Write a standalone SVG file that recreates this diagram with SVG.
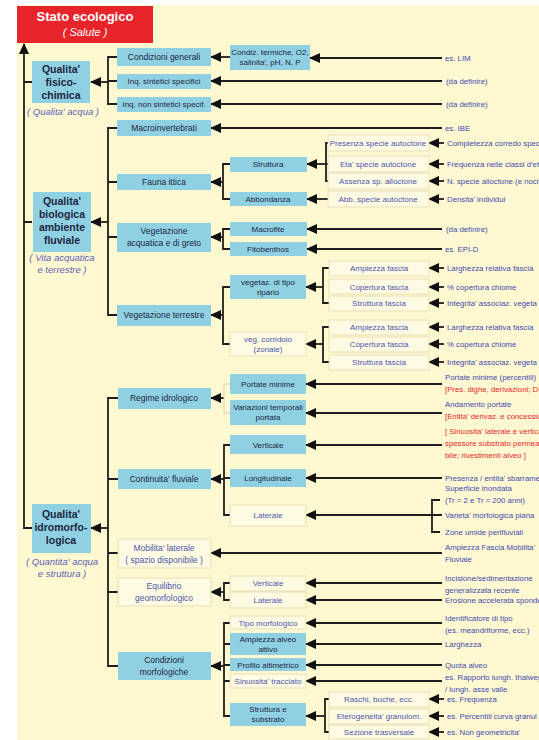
<svg xmlns="http://www.w3.org/2000/svg" width="539" height="740" viewBox="0 0 539 740">
<defs>
<marker id="ah" viewBox="0 0 11 10" refX="10" refY="5" markerWidth="11" markerHeight="10" markerUnits="userSpaceOnUse" orient="auto"><path d="M0,0 L11,5 L0,10 z" fill="#111"/></marker>
<style>
.bb{fill:#8fd0e3}
.wb{fill:#fffbe2;stroke:#e4d9b0;stroke-width:0.8}
.ln{fill:none;stroke:#1e1e1e;stroke-width:1.8}
.ar{fill:none;stroke:#1e1e1e;stroke-width:1.8;marker-end:url(#ah)}
.lt{fill:none;stroke:#d8d0b8;stroke-width:1}
text{font-family:"Liberation Sans",Arial,sans-serif}
.t{font-size:8.5px;fill:#1c2640;text-anchor:middle}
.tb{font-size:8.5px;fill:#4a55b0;text-anchor:middle}
.s{font-size:8px;fill:#4a55b0;text-anchor:middle}
.h{font-size:10.5px;font-weight:bold;fill:#1c2640;text-anchor:middle}
.c{font-size:9.5px;font-style:italic;fill:#5a62b8;text-anchor:middle}
.r{font-size:7.8px;fill:#3e4bb0}
.rr{font-size:7.8px;fill:#e8262e}
</style>
</defs>
<rect x="17" y="5" width="522" height="735" fill="#fff8d0"/>

<g id="connectors">
<path class="ar" d="M32,528 H24 V44"/>
<path class="ln" d="M24,82 H32 M24,222 H32"/>
<path class="ar" d="M108,82 H91"/>
<path class="ln" d="M117,57 H108 V104 H117 M108,81 H117"/>
<path class="ar" d="M230,57 H211"/>
<path class="ar" d="M442,58 H310"/>
<path class="ar" d="M442,81 H211"/>
<path class="ar" d="M442,104 H211"/>
<path class="ar" d="M108,222 H91"/>
<path class="ln" d="M117,128 H108 V315 H117 M108,182 H117 M108,237 H117"/>
<path class="ar" d="M442,128 H211"/>
<path class="ar" d="M223,182 H211"/>
<path class="ln" d="M230,164 H223 V199 H230"/>
<path class="ar" d="M326,164 H307"/>
<path class="ln" d="M332,143 H326 V181 H332 M326,164 H332"/>
<path class="ar" d="M328,199 H307"/>
<path class="ar" d="M444,143 H429"/>
<path class="ar" d="M444,164 H429"/>
<path class="ar" d="M444,181 H429"/>
<path class="ar" d="M444,199 H429"/>
<path class="ar" d="M223,237 H211"/>
<path class="ln" d="M230,229 H223 V249 H230"/>
<path class="ar" d="M442,229 H307"/>
<path class="ar" d="M442,249 H307"/>
<path class="ar" d="M223,315 H211"/>
<path class="ln" d="M230,287 H223 V344 H230"/>
<path class="ar" d="M323,287 H306"/>
<path class="ln" d="M329,268 H323 V303 H329"/>
<path class="ar" d="M323,344 H306"/>
<path class="ln" d="M329,327 H323 V362 H329"/>
<path class="ar" d="M444,268 H429"/>
<path class="ar" d="M444,287 H429"/>
<path class="ar" d="M444,303 H429"/>
<path class="ar" d="M444,327 H429"/>
<path class="ar" d="M444,344 H429"/>
<path class="ar" d="M444,362 H429"/>
<path class="ar" d="M108,528 H91"/>
<path class="ln" d="M118,398 H108 V666 H118 M108,479 H118 M108,553 H118 M108,592 H118"/>
<path class="ar" d="M224,398 H211"/>
<path class="lt" d="M230,384 H224 V413 H230"/>
<path class="ar" d="M442,384 H306"/>
<path class="ar" d="M442,413 H306"/>
<path class="ar" d="M224,479 H211"/>
<path class="ln" d="M230,445 H224 V515 H230 M224,478 H230"/>
<path class="ar" d="M442,445 H306"/>
<path class="ar" d="M442,478 H306"/>
<path class="ar" d="M442,515 H306"/>
<path class="ln" d="M440,500 H432 V532 H440"/>
<path class="ar" d="M442,553 H211"/>
<path class="ar" d="M224,592 H211"/>
<path class="ln" d="M230,583 H224 V600 H230"/>
<path class="ar" d="M442,583 H306"/>
<path class="ar" d="M442,600 H306"/>
<path class="ar" d="M224,666 H211"/>
<path class="ln" d="M230,623 H224 V716 H230 M224,644 H230 M224,665 H230 M224,681 H230"/>
<path class="ar" d="M442,623 H306"/>
<path class="ar" d="M442,644 H306"/>
<path class="ar" d="M442,665 H306"/>
<path class="ar" d="M442,681 H306"/>
<path class="ar" d="M325,716 H306"/>
<path class="ln" d="M329,699 H325 V732 H329"/>
<path class="ar" d="M444,699 H429"/>
<path class="ar" d="M444,716 H429"/>
<path class="ar" d="M444,732 H429"/>
</g>

<g id="stato"><rect x="17" y="6" width="136" height="37" fill="#e8242b"/><text x="85" y="21" style="font-size:13px;font-weight:bold;fill:#fff;text-anchor:middle">Stato ecologico</text><text x="85" y="36" style="font-size:11px;font-style:italic;fill:#fff;text-anchor:middle">( Salute )</text></g>

<g id="fisico"><rect class="bb" x="32" y="61" width="58" height="42"/><text class="h" x="61" y="73">Qualita'</text><text class="h" x="61" y="86">fisico-</text><text class="h" x="61" y="99">chimica</text><text class="c" x="63" y="115">( Qualita' acqua )</text></g>
<g id="biologica"><rect class="bb" x="33" y="192" width="58" height="60"/><text class="h" x="62" y="205">Qualita'</text><text class="h" x="62" y="218">biologica</text><text class="h" x="62" y="231">ambiente</text><text class="h" x="62" y="244">fluviale</text><text class="c" x="62" y="261">( Vita acquatica</text><text class="c" x="62" y="273">e terrestre )</text></g>
<g id="idromorfologica"><rect class="bb" x="32" y="504" width="59" height="49"/><text class="h" x="61" y="518">Qualita'</text><text class="h" x="61" y="531">idromorfo-</text><text class="h" x="61" y="544">logica</text><text class="c" x="62" y="565">( Quantita' acqua</text><text class="c" x="62" y="577">e struttura )</text></g>

<g id="cond-generali"><rect class="bb" x="117" y="48" width="94" height="18"/><text class="t" x="164" y="60">Condizioni generali</text></g>
<g id="condiz-termiche"><rect class="bb" x="230" y="45" width="80" height="25"/><text class="t" x="270" y="55" style="font-size:8px">Condiz. termiche, O2,</text><text class="t" x="270" y="65" style="font-size:8px">salinita', pH, N, P</text></g>
<g id="inq-sint"><rect class="bb" x="117" y="74" width="94" height="15"/><text class="t" x="164" y="84" style="font-size:8px">Inq. sintetici specifici</text></g>
<g id="inq-nonsint"><rect class="bb" x="117" y="97" width="94" height="15"/><text class="t" x="164" y="107" style="font-size:8px">Inq. non sintetici specif.</text></g>
<g id="macroinv"><rect class="bb" x="117" y="120" width="94" height="16"/><text class="t" x="164" y="131">Macroinvertebrati</text></g>
<g id="fauna"><rect class="bb" x="117" y="174" width="94" height="16"/><text class="t" x="164" y="185">Fauna ittica</text></g>
<g id="struttura"><rect class="bb" x="230" y="157" width="77" height="15"/><text class="t" x="268" y="167" style="font-size:8px">Struttura</text></g>
<g id="abbondanza"><rect class="bb" x="230" y="192" width="77" height="14"/><text class="t" x="268" y="202" style="font-size:8px">Abbondanza</text></g>
<g id="presenza"><rect class="wb" x="328" y="135" width="101" height="16"/><text class="s" x="378" y="146">Presenza specie autoctone</text></g>
<g id="eta"><rect class="wb" x="328" y="156" width="101" height="16"/><text class="s" x="378" y="167">Eta' specie autoctone</text></g>
<g id="assenza"><rect class="wb" x="328" y="173" width="101" height="16"/><text class="s" x="378" y="184">Assenza sp. alloctone</text></g>
<g id="abb-specie"><rect class="wb" x="328" y="191" width="101" height="16"/><text class="s" x="378" y="202">Abb. specie autoctone</text></g>
<g id="veg-acq"><rect class="bb" x="117" y="223" width="94" height="29"/><text class="t" x="164" y="234">Vegetazione</text><text class="t" x="164" y="246">acquatica e di greto</text></g>
<g id="macrofite"><rect class="bb" x="230" y="222" width="77" height="14"/><text class="t" x="268" y="232" style="font-size:8px">Macrofite</text></g>
<g id="fitobenthos"><rect class="bb" x="230" y="242" width="77" height="14"/><text class="t" x="268" y="252" style="font-size:8px">Fitobenthos</text></g>
<g id="veg-terr"><rect class="bb" x="117" y="305" width="94" height="21"/><text class="t" x="164" y="318">Vegetazione terrestre</text></g>
<g id="ripario"><rect class="bb" x="230" y="275" width="76" height="24"/><text class="t" x="268" y="285" style="font-size:8px">vegetaz. di tipo</text><text class="t" x="268" y="295" style="font-size:8px">ripario</text></g>
<g id="corridoio"><rect class="wb" x="230" y="332" width="76" height="24"/><text class="s" x="268" y="342">veg. corridoio</text><text class="s" x="268" y="352">(zonale)</text></g>
<g id="amp1"><rect class="wb" x="329" y="261" width="100" height="15"/><text class="s" x="379" y="271">Ampiezza fascia</text></g>
<g id="cop1"><rect class="wb" x="329" y="279" width="100" height="15"/><text class="s" x="379" y="290">Copertura fascia</text></g>
<g id="str1"><rect class="wb" x="329" y="296" width="100" height="15"/><text class="s" x="379" y="306">Struttura fascia</text></g>
<g id="amp2"><rect class="wb" x="329" y="320" width="100" height="15"/><text class="s" x="379" y="330">Ampiezza fascia</text></g>
<g id="cop2"><rect class="wb" x="329" y="337" width="100" height="15"/><text class="s" x="379" y="347">Copertura fascia</text></g>
<g id="str2"><rect class="wb" x="329" y="355" width="100" height="15"/><text class="s" x="379" y="365">Struttura fascia</text></g>

<g id="regime"><rect class="bb" x="118" y="388" width="93" height="21"/><text class="t" x="164" y="401">Regime idrologico</text></g>
<g id="portate"><rect class="bb" x="230" y="374" width="76" height="20"/><text class="t" x="268" y="387" style="font-size:8px">Portate minime</text></g>
<g id="variazioni"><rect class="bb" x="230" y="400" width="76" height="25"/><text class="t" x="268" y="410" style="font-size:8px">Variazioni temporali</text><text class="t" x="268" y="420" style="font-size:8px">portata</text></g>
<g id="continuita"><rect class="bb" x="118" y="469" width="93" height="20"/><text class="t" x="164" y="482">Continuita' fluviale</text></g>
<g id="verticale1"><rect class="bb" x="230" y="435" width="76" height="19"/><text class="t" x="268" y="448" style="font-size:8px">Verticale</text></g>
<g id="longitudinale"><rect class="bb" x="230" y="469" width="76" height="18"/><text class="t" x="268" y="481" style="font-size:8px">Longitudinale</text></g>
<g id="laterale1"><rect class="wb" x="230" y="505" width="76" height="21"/><text class="s" x="268" y="518">Laterale</text></g>
<g id="mobilita"><rect class="wb" x="118" y="539" width="93" height="29"/><text class="tb" x="164" y="551">Mobilita' laterale</text><text class="tb" x="164" y="563">( spazio disponibile )</text></g>
<g id="equilibrio"><rect class="wb" x="118" y="578" width="93" height="28"/><text class="tb" x="164" y="589">Equilibrio</text><text class="tb" x="164" y="601">geomorfologico</text></g>
<g id="verticale2"><rect class="wb" x="230" y="576" width="76" height="15"/><text class="s" x="268" y="586">Verticale</text></g>
<g id="laterale2"><rect class="wb" x="230" y="592" width="76" height="16"/><text class="s" x="268" y="603">Laterale</text></g>
<g id="cond-morf"><rect class="bb" x="118" y="652" width="93" height="28"/><text class="t" x="164" y="663">Condizioni</text><text class="t" x="164" y="675">morfologiche</text></g>
<g id="tipo"><rect class="wb" x="230" y="616" width="76" height="13"/><text class="s" x="268" y="626">Tipo morfologico</text></g>
<g id="ampiezza-alveo"><rect class="bb" x="230" y="633" width="76" height="22"/><text class="t" x="268" y="642" style="font-size:8px">Ampiezza alveo</text><text class="t" x="268" y="652" style="font-size:8px">attivo</text></g>
<g id="profilo"><rect class="bb" x="230" y="658" width="76" height="13"/><text class="t" x="268" y="668" style="font-size:8px">Profilo altimetrico</text></g>
<g id="sinuosita"><rect class="wb" x="230" y="674" width="76" height="14"/><text class="s" x="268" y="684">Sinuosita' tracciato</text></g>
<g id="struttura-substrato"><rect class="bb" x="230" y="703" width="76" height="23"/><text class="t" x="268" y="712" style="font-size:8px">Struttura e</text><text class="t" x="268" y="722" style="font-size:8px">substrato</text></g>
<g id="raschi"><rect class="wb" x="329" y="692" width="100" height="15"/><text class="s" x="379" y="702">Raschi, buche, ecc.</text></g>
<g id="eterogeneita"><rect class="wb" x="329" y="709" width="100" height="15"/><text class="s" x="379" y="719">Eterogeneita' granulom.</text></g>
<g id="sezione"><rect class="wb" x="329" y="725" width="100" height="14"/><text class="s" x="379" y="735">Sezione trasversale</text></g>

<g id="labels">
<text class="r" x="445" y="61">es. LIM</text>
<text class="r" x="446" y="84">(da definire)</text>
<text class="r" x="446" y="107">(da definire)</text>
<text class="r" x="445" y="131">es. IBE</text>
<text class="r" x="447" y="146">Completezza corredo speci</text>
<text class="r" x="447" y="167">Frequenza nelle classi d'eta</text>
<text class="r" x="447" y="184">N. specie alloctone (e nociv</text>
<text class="r" x="447" y="202">Densita' individui</text>
<text class="r" x="446" y="232">(da definire)</text>
<text class="r" x="445" y="252">es. EPI-D</text>
<text class="r" x="447" y="271">Larghezza relativa fascia</text>
<text class="r" x="447" y="290">% copertura chiome</text>
<text class="r" x="447" y="306">Integrita' associaz. vegeta</text>
<text class="r" x="447" y="330">Larghezza relativa fascia</text>
<text class="r" x="447" y="347">% copertura chiome</text>
<text class="r" x="447" y="365">Integrita' associaz. vegeta</text>
<text class="r" x="445" y="380">Portate minime (percentili)</text>
<text class="rr" x="445" y="392">[Pres. dighe, derivazioni; DI</text>
<text class="r" x="445" y="407">Andamento portate</text>
<text class="rr" x="445" y="419">[Entita' derivaz. e concessio</text>
<text class="rr" x="445" y="434">[ Sinuosita' laterale e vertica</text>
<text class="rr" x="445" y="446">spessore substrato permea</text>
<text class="rr" x="445" y="458">bile; rivestimenti alveo ]</text>
<text class="r" x="445" y="481">Presenza / entita' sbarrame</text>
<text class="r" x="445" y="491">Superficie inondata</text>
<text class="r" x="445" y="503">(Tr = 2 e Tr = 200 anni)</text>
<text class="r" x="445" y="518">Varieta' morfologica piana</text>
<text class="r" x="445" y="535">Zone umide perifluviali</text>
<text class="r" x="445" y="550">Ampiezza Fascia Mobilita'</text>
<text class="r" x="445" y="562">Fluviale</text>
<text class="r" x="445" y="581">Incisione/sedimentazione</text>
<text class="r" x="445" y="593">generalizzata recente</text>
<text class="r" x="445" y="603">Erosione accelerata sponde</text>
<text class="r" x="445" y="621">Identificatore di tipo</text>
<text class="r" x="445" y="633">(es. meandriforme, ecc.)</text>
<text class="r" x="445" y="647">Larghezza</text>
<text class="r" x="445" y="668">Quota alveo</text>
<text class="r" x="445" y="680">es. Rapporto lungh. thalweg</text>
<text class="r" x="445" y="692">/ lungh. asse valle</text>
<text class="r" x="447" y="702">es. Frequenza</text>
<text class="r" x="447" y="719">es. Percentili curva granul</text>
<text class="r" x="447" y="735">es. Non geometricita'</text>
</g>
</svg>
